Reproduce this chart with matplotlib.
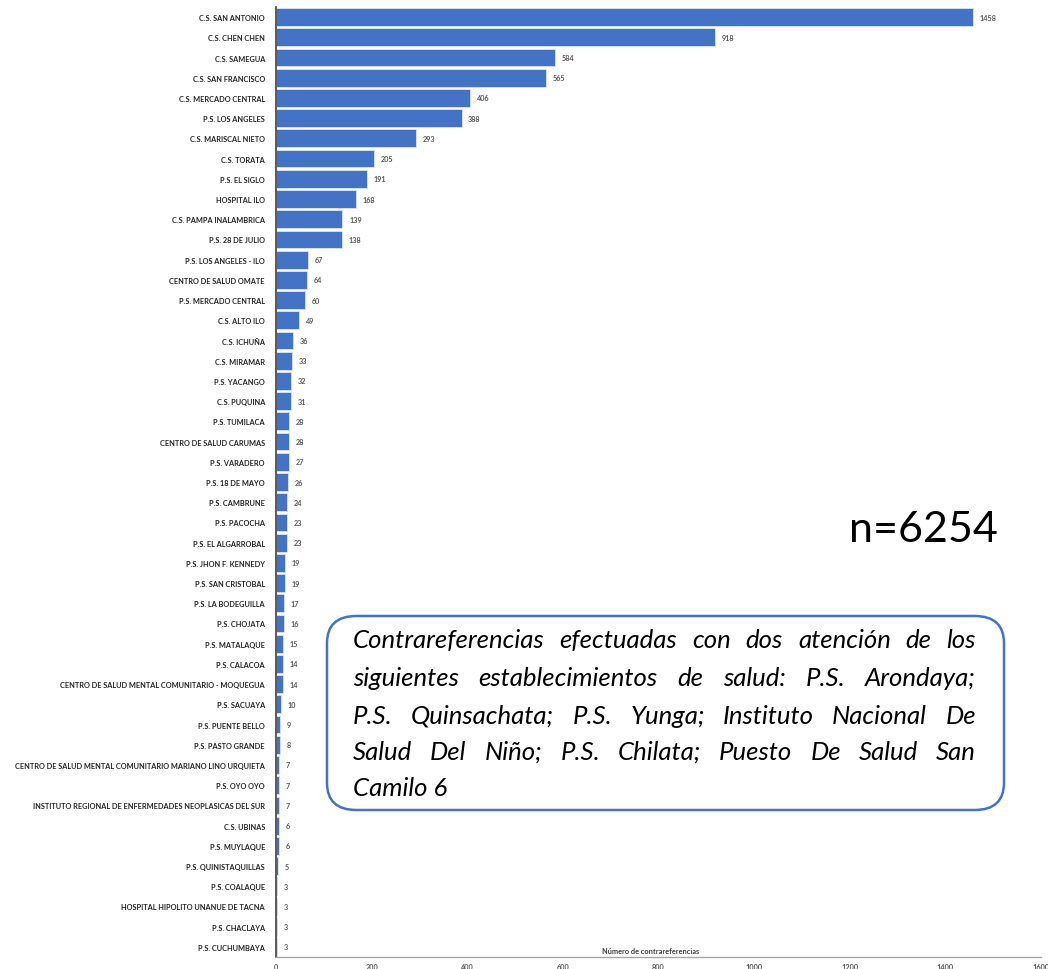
import numpy as np
import matplotlib
matplotlib.use('Agg')
import matplotlib.pyplot as plt
from matplotlib.patches import FancyBboxPatch

# establecimientos, de arriba hacia abajo
establecimientos = [
    'C.S. SAN ANTONIO', 'C.S. CHEN CHEN', 'C.S. SAMEGUA', 'C.S. SAN FRANCISCO',
    'C.S. MERCADO CENTRAL', 'P.S. LOS ANGELES', 'C.S. MARISCAL NIETO', 'C.S. TORATA',
    'P.S. EL SIGLO', 'HOSPITAL ILO', 'C.S. PAMPA INALAMBRICA', 'P.S. 28 DE JULIO',
    'P.S. LOS ANGELES - ILO', 'CENTRO DE SALUD OMATE', 'P.S. MERCADO CENTRAL',
    'C.S. ALTO ILO', 'C.S. ICHUÑA', 'C.S. MIRAMAR', 'P.S. YACANGO', 'C.S. PUQUINA',
    'P.S. TUMILACA', 'CENTRO DE SALUD CARUMAS', 'P.S. VARADERO', 'P.S. 18 DE MAYO',
    'P.S. CAMBRUNE', 'P.S. PACOCHA', 'P.S. EL ALGARROBAL', 'P.S. JHON F. KENNEDY',
    'P.S. SAN CRISTOBAL', 'P.S. LA BODEGUILLA', 'P.S. CHOJATA', 'P.S. MATALAQUE',
    'P.S. CALACOA', 'CENTRO DE SALUD MENTAL COMUNITARIO - MOQUEGUA', 'P.S. SACUAYA',
    'P.S. PUENTE BELLO', 'P.S. PASTO GRANDE',
    'CENTRO DE SALUD MENTAL COMUNITARIO MARIANO LINO URQUIETA', 'P.S. OYO OYO',
    'INSTITUTO REGIONAL DE ENFERMEDADES NEOPLASICAS DEL SUR', 'C.S. UBINAS',
    'P.S. MUYLAQUE', 'P.S. QUINISTAQUILLAS', 'P.S. COALAQUE',
    'HOSPITAL HIPOLITO UNANUE DE TACNA', 'P.S. CHACLAYA', 'P.S. CUCHUMBAYA',
]
contrareferencias = [
    1458, 918, 584, 565, 406, 388, 293, 205, 191, 168, 139, 138, 67, 64, 60, 49,
    36, 33, 32, 31, 28, 28, 27, 26, 24, 23, 23, 19, 19, 17, 16, 15, 14, 14, 10,
    9, 8, 7, 7, 7, 6, 6, 5, 3, 3, 3, 3,
]
xticks = [0, 200, 400, 600, 800, 1000, 1200, 1400, 1600]

total_n = 'n=6254'
nota_lineas = [
    'Contrareferencias efectuadas con dos atención de los',
    'siguientes establecimientos de salud: P.S. Arondaya;',
    'P.S. Quinsachata; P.S. Yunga; Instituto Nacional De',
    'Salud Del Niño; P.S. Chilata; Puesto De Salud San',
    'Camilo 6',
]

plt.rcParams['font.family'] = ['Lato', 'DejaVu Sans']

fig = plt.figure(figsize=(10.48, 9.70), dpi=100)
ax = fig.add_axes([276/1048, 12/970, (1041-276)/1048, (962-12)/970])

y = np.arange(len(establecimientos))
ax.barh(y, contrareferencias, height=0.88, color='#4472C4',
        edgecolor='#dbe4f5', linewidth=0.6)
for yi, v in zip(y, contrareferencias):
    ax.text(v + 14, yi, str(v), va='center', ha='left', fontsize=5.2,
            color='#595959', fontweight='bold')

ax.set_yticks(y)
ax.set_yticklabels(establecimientos, fontsize=5.3, fontweight='bold', color='#262626')
ax.set_ylim(len(establecimientos) - 0.5, -0.5)
ax.set_xlim(0, 1600)
ax.set_xticks(xticks)
ax.set_xticklabels([str(t) for t in xticks], fontsize=5.3, fontweight='bold', color='#595959')
ax.tick_params(axis='both', length=0)
ax.tick_params(axis='x', pad=4)
ax.tick_params(axis='y', pad=8)
for s in ['top', 'right']:
    ax.spines[s].set_visible(False)
ax.spines['left'].set_color('#404040')
ax.spines['left'].set_linewidth(1.2)
ax.spines['bottom'].set_color('#a6a6a6')
ax.spines['bottom'].set_linewidth(1.0)

ax.set_xlabel('Número de contrareferencias', fontsize=5.3, fontweight='bold', color='#404040')
ax.xaxis.set_label_coords(0.49, 0.003)
ax.xaxis.label.set_va('bottom')

fig.text(998/1048, 1 - 530/970, total_n, fontsize=31, ha='right', va='center', color='#000000')

# recuadro con la nota
box = FancyBboxPatch((327/1048, 1 - 811/970), (1004-327)/1048, (811-617)/970,
                     boxstyle='round,pad=0,rounding_size=0.028',
                     transform=fig.transFigure, facecolor='white',
                     edgecolor='#4472C4', linewidth=1.8, zorder=5)
fig.patches.append(box)

# texto justificado (palabra por palabra)
fig.canvas.draw()
renderer = fig.canvas.get_renderer()
x_izq, x_der = 353, 976
y_lineas = [641, 679, 716, 752, 789]
fs_nota = 18.5
for i, (linea, yl) in enumerate(zip(nota_lineas, y_lineas)):
    palabras = linea.split(' ')
    if i == len(nota_lineas) - 1:
        fig.text(x_izq/1048, 1 - yl/970, linea, fontsize=fs_nota, style='italic',
                 ha='left', va='center', zorder=6)
        continue
    anchos = []
    for p in palabras:
        t = fig.text(0, 0, p, fontsize=fs_nota, style='italic')
        anchos.append(t.get_window_extent(renderer).width)
        t.remove()
    hueco = (x_der - x_izq - sum(anchos)) / (len(palabras) - 1)
    xp = x_izq
    for p, w in zip(palabras, anchos):
        fig.text(xp/1048, 1 - yl/970, p, fontsize=fs_nota, style='italic',
                 ha='left', va='center', zorder=6)
        xp += w + hueco

fig.savefig('out.png', dpi=100)
